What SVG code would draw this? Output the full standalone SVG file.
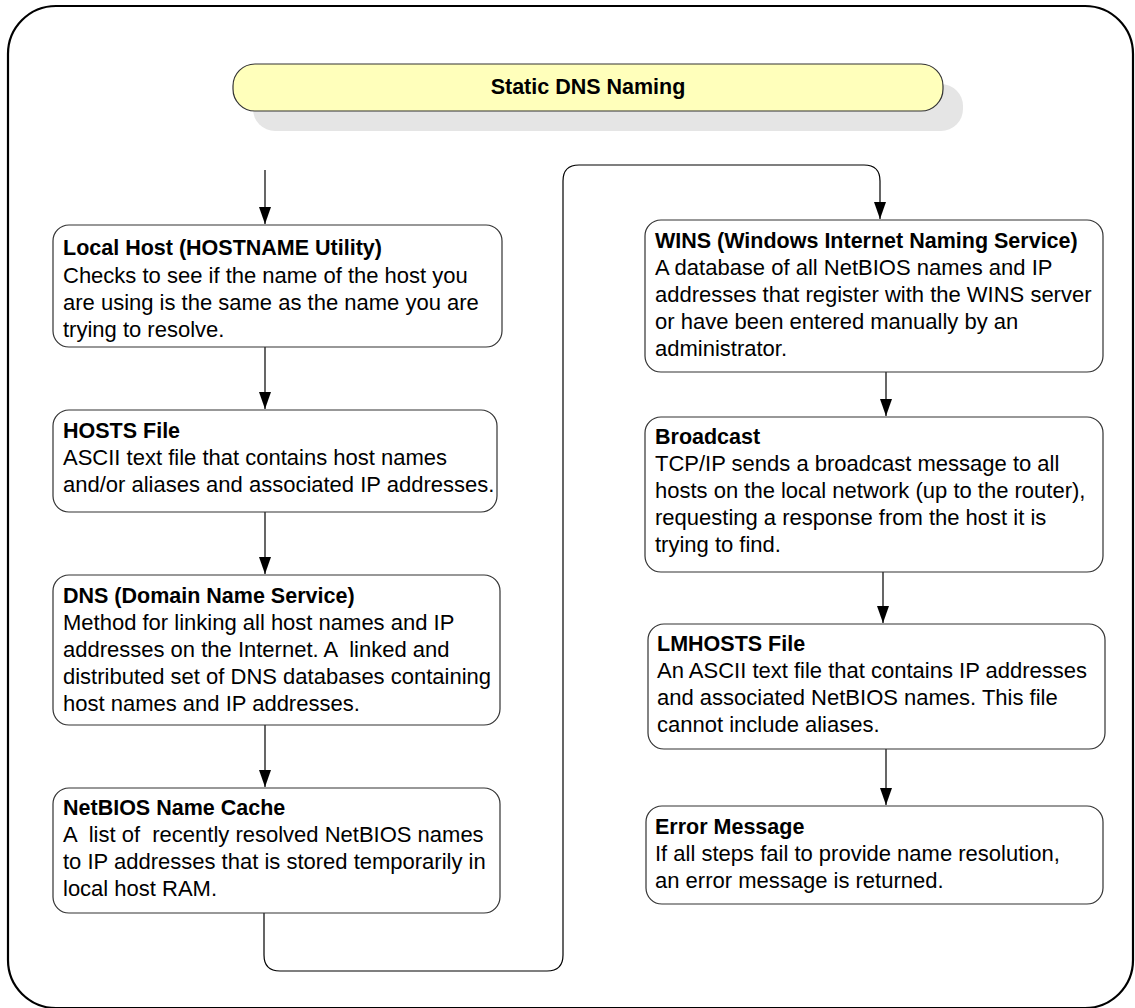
<svg xmlns="http://www.w3.org/2000/svg" width="1135" height="1008" viewBox="0 0 1135 1008">
<style>
.box{fill:#fff;stroke:#333;stroke-width:1.2}
.h{font-family:"Liberation Sans",Arial,sans-serif;font-weight:bold;font-size:21.5px;fill:#000}
.t{font-family:"Liberation Sans",Arial,sans-serif;font-size:22px;fill:#000}
.c{fill:none;stroke:#000;stroke-width:1.2}
</style>
<defs>
<marker id="ah" markerUnits="userSpaceOnUse" markerWidth="18" markerHeight="13" refX="17" refY="6" orient="auto">
<path d="M0,0 L17,6 L0,12 z" fill="#000"/>
</marker>
</defs>
<rect x="0" y="0" width="1135" height="1008" fill="#fff"/>
<rect id="frame" x="8" y="6" width="1125" height="1002" rx="48" ry="48" fill="none" stroke="#000" stroke-width="2.2"/>
<g id="title">
<rect x="253" y="84" width="710" height="47" rx="22" fill="#e5e5e5"/>
<rect x="233" y="64" width="710" height="47" rx="22" fill="#ffffbb" stroke="#333" stroke-width="1.2"/>
<text class="h" x="588" y="94" text-anchor="middle" font-size="20">Static DNS Naming</text>
</g>
<g id="connectors">
<path class="c" d="M265,170 V224" marker-end="url(#ah)"/>
<path class="c" d="M265,347 V409" marker-end="url(#ah)"/>
<path class="c" d="M265,512 V574" marker-end="url(#ah)"/>
<path class="c" d="M265,725 V787" marker-end="url(#ah)"/>
<path class="c" d="M264,913 V955 Q264,971 280,971 H547 Q563,971 563,955 V181 Q563,165 579,165 H864 Q880,165 880,181 V219" marker-end="url(#ah)"/>
<path class="c" d="M886,372 V416" marker-end="url(#ah)"/>
<path class="c" d="M883,572 V623" marker-end="url(#ah)"/>
<path class="c" d="M886,749 V805" marker-end="url(#ah)"/>
</g>
<g id="localhost">
<rect class="box" x="53" y="225" width="449" height="122" rx="16"/>
<text class="h" x="63" y="255">Local Host (HOSTNAME Utility)</text>
<text class="t" x="63" y="283">Checks to see if the name of the host you</text>
<text class="t" x="63" y="310">are using is the same as the name you are</text>
<text class="t" x="63" y="337">trying to resolve.</text>
</g>
<g id="hosts">
<rect class="box" x="53" y="410" width="444" height="102" rx="16"/>
<text class="h" x="63" y="438">HOSTS File</text>
<text class="t" x="63" y="465">ASCII text file that contains host names</text>
<text class="t" x="63" y="492">and/or aliases and associated IP addresses.</text>
</g>
<g id="dns">
<rect class="box" x="53" y="575" width="447" height="150" rx="16"/>
<text class="h" x="63" y="603">DNS (Domain Name Service)</text>
<text class="t" x="63" y="630">Method for linking all host names and IP</text>
<text class="t" x="63" y="657" xml:space="preserve">addresses on the Internet. A  linked and</text>
<text class="t" x="63" y="684">distributed set of DNS databases containing</text>
<text class="t" x="63" y="711">host names and IP addresses.</text>
</g>
<g id="netbios">
<rect class="box" x="53" y="788" width="447" height="125" rx="16"/>
<text class="h" x="63" y="815">NetBIOS Name Cache</text>
<text class="t" x="63" y="842" xml:space="preserve">A  list of  recently resolved NetBIOS names</text>
<text class="t" x="63" y="869">to IP addresses that is stored temporarily in</text>
<text class="t" x="63" y="896">local host RAM.</text>
</g>
<g id="wins">
<rect class="box" x="645" y="220" width="458" height="152" rx="16"/>
<text class="h" x="655" y="248">WINS (Windows Internet Naming Service)</text>
<text class="t" x="655" y="275">A database of all NetBIOS names and IP</text>
<text class="t" x="655" y="302">addresses that register with the WINS server</text>
<text class="t" x="655" y="329">or have been entered manually by an</text>
<text class="t" x="655" y="356">administrator.</text>
</g>
<g id="broadcast">
<rect class="box" x="645" y="417" width="458" height="155" rx="16"/>
<text class="h" x="655" y="444">Broadcast</text>
<text class="t" x="655" y="471">TCP/IP sends a broadcast message to all</text>
<text class="t" x="655" y="498">hosts on the local network (up to the router),</text>
<text class="t" x="655" y="525">requesting a response from the host it is</text>
<text class="t" x="655" y="552">trying to find.</text>
</g>
<g id="lmhosts">
<rect class="box" x="648" y="624" width="457" height="125" rx="16"/>
<text class="h" x="657" y="651">LMHOSTS File</text>
<text class="t" x="657" y="678">An ASCII text file that contains IP addresses</text>
<text class="t" x="657" y="705">and associated NetBIOS names. This file</text>
<text class="t" x="657" y="732">cannot include aliases.</text>
</g>
<g id="error">
<rect class="box" x="646" y="806" width="457" height="98" rx="16"/>
<text class="h" x="655" y="834">Error Message</text>
<text class="t" x="655" y="861">If all steps fail to provide name resolution,</text>
<text class="t" x="655" y="888">an error message is returned.</text>
</g>
</svg>
